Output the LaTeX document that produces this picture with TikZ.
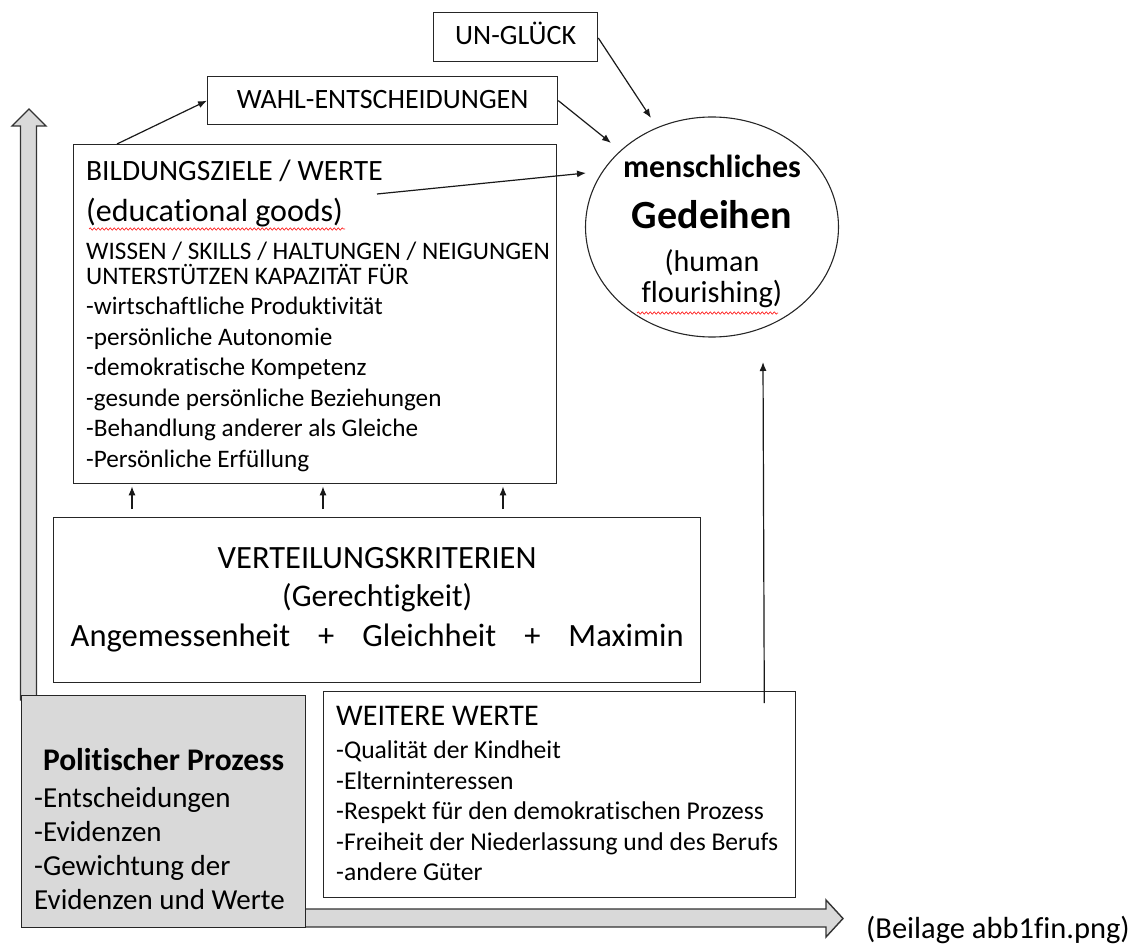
\documentclass[tikz,border=0pt]{standalone}
\usepackage{fontspec}
\setmainfont{Carlito}[Ligatures=NoCommon]
\usetikzlibrary{arrows.meta,shapes.geometric,calc,decorations.pathmorphing}
\newcommand{\fsz}[1]{\fontsize{#1pt}{1.22\dimexpr#1pt\relax}\selectfont}
\begin{document}
\begin{tikzpicture}[x=1pt,y=-1pt,
  box/.style={draw=black!85,line width=1.3pt,fill=white,inner sep=0pt,anchor=north west},
  graybox/.style={box,fill=gray!30},
  txt/.style={inner sep=0pt,anchor=base west},
  ctxt/.style={inner sep=0pt,anchor=base},
  arr/.style={draw=black!90,line width=1.2pt,-{Latex[length=9pt,width=7pt]}},
  big/.style={draw=black!80,line width=1.4pt,fill=gray!30},
  wave/.style={red!85,line width=0.7pt,decorate,decoration={snake,amplitude=1.1pt,segment length=4pt}}]

\useasboundingbox (0,0) rectangle (1134,949);

% big grey axes arrows
\draw[big] (20.5,700) -- (20.5,126) -- (12,126) -- (29,109) -- (46,126) -- (36.5,126) -- (36.5,700) -- cycle;
\draw[big] (290,909) -- (826,909) -- (826,900) -- (843,918.5) -- (826,937) -- (826,927) -- (290,927) -- cycle;

% boxes
\node[box,minimum width=164pt,minimum height=49pt] (ung) at (433,12) {};
\node[box,minimum width=350pt,minimum height=48pt] (wahl) at (207,76) {};
\node[box,minimum width=483pt,minimum height=339pt] (bild) at (73,144) {};
\node[box,minimum width=647pt,minimum height=165pt] (vert) at (53,517) {};
\node[graybox,minimum width=284pt,minimum height=232pt] (pol) at (21,695) {};
\node[box,minimum width=472pt,minimum height=206pt] (weit) at (323,691) {};
\node[draw=black!85,line width=1.1pt,ellipse,inner sep=0pt,minimum width=253pt,minimum height=220pt] (ell) at (712,227) {};

% texts
\node[ctxt,font=\fsz{28}] (tung) at (ung.center |- 0,45) {UN-GLÜCK};
\node[ctxt,font=\fsz{28}] (twahl) at (wahl.center |- 0,109) {WAHL-ENTSCHEIDUNGEN};

\node[txt,font=\fsz{29.5}] (b1) at (86,181) {BILDUNGSZIELE / WERTE};
\node[txt,font=\fsz{32}] (b2) at (86,222) {(educational goods)};
\node[txt,font=\fsz{25.2}] (b3) at (86,260) {WISSEN / SKILLS / HALTUNGEN / NEIGUNGEN};
\node[txt,font=\fsz{25.2}] (b4) at (86,285) {UNTERSTÜTZEN KAPAZITÄT FÜR};
\node[txt,font=\fsz{25.2}] (b5) at (86,315) {-wirtschaftliche Produktivität};
\node[txt,font=\fsz{25.2}] (b6) at (86,345) {-persönliche Autonomie};
\node[txt,font=\fsz{25.2}] (b7) at (86,375) {-demokratische Kompetenz};
\node[txt,font=\fsz{25.2}] (b8) at (86,406) {-gesunde persönliche Beziehungen};
\node[txt,font=\fsz{25.2}] (b9) at (86,436) {-Behandlung anderer als Gleiche};
\node[txt,font=\fsz{25.2}] (b10) at (86,467) {-Persönliche Erfüllung};
\draw[wave] (89,229) -- (345,229);

\node[ctxt,font=\fsz{32.5}] (v1) at (vert.center |- 0,568) {VERTEILUNGSKRITERIEN};
\node[ctxt,font=\fsz{31.5}] (v2) at (vert.center |- 0,606) {(Gerechtigkeit)};
\node[ctxt,font=\fsz{32.5}] (v3) at (vert.center |- 0,646) {Angemessenheit\hspace{28pt}+\hspace{28pt}Gleichheit\hspace{28pt}+\hspace{28pt}Maximin};

\node[ctxt,font=\bfseries\fsz{32}] (e1) at (ell.center |- 0,178) {menschliches};
\node[ctxt,font=\bfseries\fsz{40}] (e2) at (ell.center |- 0,229) {Gedeihen};
\node[ctxt,font=\fsz{30}] (e3) at (ell.center |- 0,272) {(human};
\node[ctxt,font=\fsz{30.5}] (e4) at (ell.center |- 0,302) {flourishing)};
\draw[wave] (637,313) -- (778,313);

\node[ctxt,font=\bfseries\fsz{31.5}] (p1) at (pol.center |- 0,770) {Politischer Prozess};
\node[txt,font=\fsz{29}] (p2) at (34,807) {-Entscheidungen};
\node[txt,font=\fsz{29}] (p3) at (34,841) {-Evidenzen};
\node[txt,font=\fsz{29}] (p4) at (34,875) {-Gewichtung der};
\node[txt,font=\fsz{29}] (p5) at (34,909) {Evidenzen und Werte};

\node[txt,font=\fsz{30}] (w1) at (336,725) {WEITERE WERTE};
\node[txt,font=\fsz{25.6}] (w2) at (336,758) {-Qualität der Kindheit};
\node[txt,font=\fsz{25.6}] (w3) at (336,789) {-Elterninteressen};
\node[txt,font=\fsz{25.6}] (w4) at (336,819) {-Respekt für den demokratischen Prozess};
\node[txt,font=\fsz{25.6}] (w5) at (336,850) {-Freiheit der Niederlassung und des Berufs};
\node[txt,font=\fsz{25.6}] (w6) at (336,880) {-andere Güter};

\node[inner sep=0pt,anchor=base east,font=\fsz{30.5}] (beil) at (1130,938) {(Beilage abb1fin.png)};

% connectors
\coordinate (wahltip) at (611,143);
\coordinate (ungtip) at (651,118);
\coordinate (bstart) at (377,194);
\coordinate (btip) at (586,173);
\coordinate (wtip) at (763,362);

\draw[arr] ($(bild.north west)+(44,0)$) -- (wahl.west);
\draw[arr] (wahl.east) -- (wahltip);
\draw[arr] (ung.east |- 0,38) -- (ungtip);
\draw[arr] (bstart) -- (btip);
\draw[arr] ($(vert.north west)+(79,-8)$) -- ($(bild.south west)+(59,2)$);
\draw[arr] ($(vert.north west)+(270,-8)$) -- ($(bild.south west)+(250,2)$);
\draw[arr] ($(vert.north west)+(450,-8)$) -- ($(bild.south west)+(430,2)$);
\draw[arr] ($(weit.north east)+(-32,12)$) -- (wtip);
\end{tikzpicture}
\end{document}
